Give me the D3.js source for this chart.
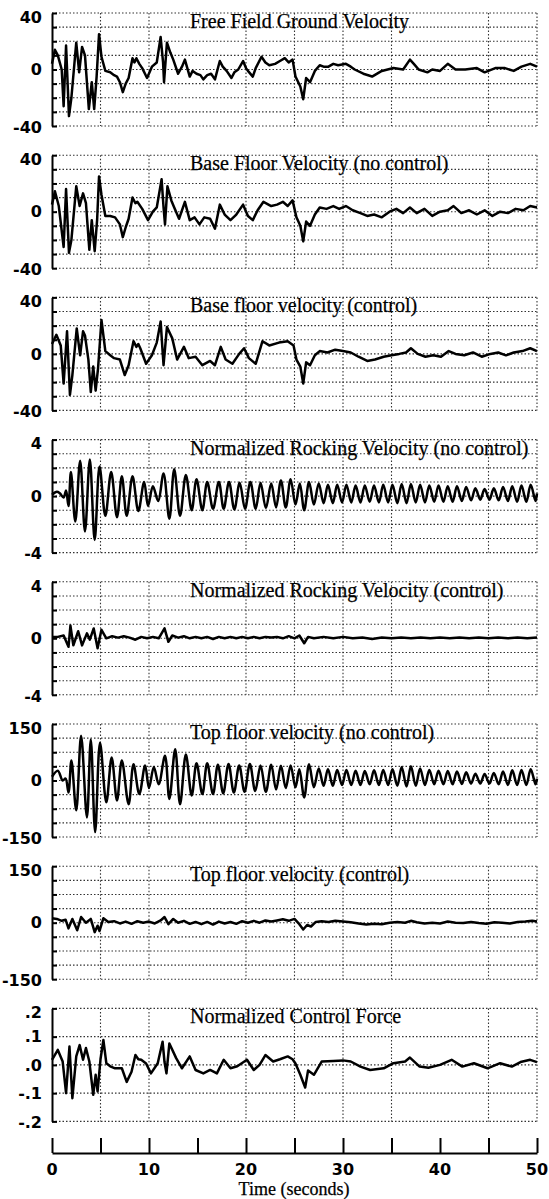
<!DOCTYPE html>
<html>
<head>
<meta charset="utf-8">
<style>
  body { margin: 0; background: #fff; }
  .grid line { stroke: #333; stroke-width: 1.1; stroke-dasharray: 1.5,2; }
  .yaxis path, .yaxis line, .xaxis path, .xaxis line { stroke: #000; stroke-width: 2; }
  .ylab, .xlab { font-family: "DejaVu Sans", sans-serif; font-size: 16px; font-weight: bold; fill: #000; }
  .title { font-family: "Liberation Serif", "Times New Roman", serif; font-size: 20px; fill: #000; stroke: #000; stroke-width: 0.25; }
  .xtitle { font-family: "Liberation Serif", "Times New Roman", serif; font-size: 18px; fill: #000; stroke: #000; stroke-width: 0.25; }
  .trace { fill: none; stroke: #000; stroke-width: 2.5; stroke-linejoin: round; }
</style>
</head>
<body>
<div id="chart"></div>
<script src="https://cdn.jsdelivr.net/npm/d3@7"></script>
<script>

var titles = [
  'Free Field Ground Velocity',
  'Base Floor Velocity (no control)',
  'Base floor velocity (control)',
  'Normalized Rocking Velocity (no control)',
  'Normalized Rocking Velocity (control)',
  'Top floor velocity (no control)',
  'Top floor velocity (control)',
  'Normalized Control Force'
];

var yMax = [40, 40, 40, 4, 4, 150, 150, 0.2];
var yGridStep = [10, 10, 10, 1, 1, 37.5, 37.5, 0.1];
var yTickVals = [
  [40, 0, -40], [40, 0, -40], [40, 0, -40], [4, 0, -4], [4, 0, -4],
  [150, 0, -150], [150, 0, -150], [0.2, 0.1, 0, -0.1, -0.2]
];
var yTickText = [
  ['40', '0', '-40'], ['40', '0', '-40'], ['40', '0', '-40'], ['4', '0', '-4'], ['4', '0', '-4'],
  ['150', '0', '-150'], ['150', '0', '-150'], ['.2', '.1', '.0', '-.1', '-.2']
];
var xGrid = [5, 10, 20, 25, 30, 35, 45, 50];
var xTicks = [0, 5, 10, 15, 20, 25, 30, 35, 40, 45, 50];
var xLabels = [0, 10, 20, 30, 40, 50];

// [time (s), value]
var groundVel = [[0,4],[0.3,14],[0.6,10],[1.0,0],[1.2,-26],[1.45,17],[1.75,-33],[2.0,-20],[2.5,19],[2.8,-2],[3.1,16],[3.4,10],[3.8,-28],[4.1,-9],[4.35,-28],[4.6,-5],[4.85,25],[5.1,9],[5.5,-1],[6.0,-2],[6.4,-4],[6.7,-5],[7.0,-9],[7.3,-16],[7.6,-10],[7.9,-6],[8.3,8],[8.5,5],[8.7,8],[9.0,4],[9.3,1],[9.8,-6],[10.3,2],[10.8,5],[11.2,23],[11.45,5],[11.55,-9],[11.85,19],[12.2,12],[12.5,7],[13.0,-3],[13.4,2],[13.7,7],[14.2,-5],[14.5,-1],[14.9,-3],[15.3,-4],[15.6,-7],[16.0,-4],[16.4,-3],[16.8,-7],[17.3,6],[17.6,2],[18.0,-1],[18.5,-6],[18.8,-2],[19.2,0],[19.7,6],[20.0,1],[20.2,-1],[20.7,-5],[21.0,1],[21.6,9],[22.0,5],[22.4,3],[23.0,4],[23.5,6],[24.0,8],[24.4,5],[24.8,7],[25.1,-5],[25.6,-12],[25.9,-21],[26.2,-6],[26.6,-9],[27.1,-1],[27.6,3],[28.0,2],[28.5,2],[29.0,4],[29.5,3],[30.3,4],[30.8,2],[31.2,0],[32.1,-3],[33.0,-5],[34.0,-1],[35.2,1],[36.2,0],[36.9,7],[37.3,4],[37.8,0],[38.7,-2],[39.2,0],[40.0,-1],[40.8,4],[41.6,0],[42.6,0],[43.8,1],[44.6,-2],[45.7,1],[46.7,1],[47.6,-1],[48.4,2],[49.3,4],[50,2]];

var baseNoCtrl = [[0,5],[0.3,14.5],[0.7,4],[1.2,-25],[1.45,16],[1.75,-29],[2.0,-20],[2.5,18],[2.85,4],[3.2,13],[3.5,6],[3.85,-27],[4.1,-6],[4.4,-28],[4.65,-6],[4.85,25],[5.1,12],[5.5,-3],[6.0,-3],[6.5,-4],[7.0,-9],[7.3,-18],[7.6,-11],[7.9,-5],[8.3,10],[8.6,6],[8.8,7],[9.3,2],[9.9,-6],[10.4,0],[10.8,3],[11.3,23],[11.5,3],[11.65,-9],[11.9,18],[12.3,8],[12.6,3],[13.1,-5],[13.7,7],[14.2,-6],[14.7,-4],[15.2,-9],[15.7,-4],[16.3,-5],[16.8,-12],[17.3,5],[17.8,-2],[18.4,-6],[19.0,-2],[19.7,5],[20.2,-3],[20.7,-6],[21.2,1],[21.8,7],[22.6,4],[23.2,5],[23.8,7],[24.3,4],[24.8,8],[25.2,-4],[25.6,-10],[25.9,-21],[26.2,-7],[26.6,-10],[27.1,-2],[27.6,3],[28.3,2],[29.0,4],[29.6,2],[30.3,4],[31.0,1],[31.8,-1],[32.5,-3],[33.2,-2],[34.0,-4],[34.8,0],[35.5,2],[36.2,-1],[36.9,3],[37.6,-1],[38.4,2],[39.2,-3],[40.0,0],[40.8,1],[41.4,4],[42.2,-1],[43.0,1],[43.8,-2],[44.6,1],[45.4,-3],[46.2,0],[47.0,-1],[47.8,2],[48.6,1],[49.3,4],[50,3]];

var baseCtrl = [[0,7],[0.45,13.5],[0.9,6],[1.2,-21],[1.55,16],[1.85,-29],[2.1,-15],[2.55,18],[2.9,-1],[3.2,16],[3.4,13],[3.75,-4],[4.0,-27],[4.25,-9],[4.5,-26],[4.75,-10],[5.1,24],[5.5,2],[6.0,-1],[6.4,-3],[7.0,-4],[7.5,-15],[7.9,-8],[8.4,9],[8.7,5],[8.9,7],[9.1,4],[9.7,-7],[10.3,-1],[10.8,8],[11.2,23],[11.4,2],[11.5,-8],[11.85,19],[12.4,11],[12.9,-4],[13.6,5],[14.1,-3],[14.8,-2],[15.5,-8],[16.3,-5],[16.8,-8],[17.4,5],[17.9,-4],[18.6,-7],[19.3,0],[19.8,4],[20.3,-3],[21.0,-7],[21.7,9],[22.4,6],[23.4,8],[24.3,9],[24.9,6],[25.2,-4],[25.6,-9],[25.9,-21],[26.2,-6],[26.6,-8],[27.1,-1],[27.6,2],[28.4,1],[29.2,3],[30.0,2],[30.8,1],[31.6,-2],[32.5,-5],[33.3,-4],[34.2,-2],[35.0,-1],[35.8,0],[36.5,1],[37.0,4],[37.7,0],[38.5,-2],[39.3,-1],[40.1,-2],[40.9,2],[41.6,0],[42.5,-1],[43.4,1],[44.3,-2],[45.2,0],[46.0,1],[46.8,-1],[47.6,1],[48.5,2],[49.3,4],[50,2]];

var rockNoCtrl = [[0,0.1],[0.5,0.3],[0.8,0.2],[1.2,-0.1],[1.45,0.4],[1.7,-0.7],[1.95,1.7],[2.4,-1.8],[2.9,2.5],[3.4,-2.5],[3.9,2.6],[4.4,-3.1],[4.9,2.1],[5.5,-1.4],[6.1,1.7],[6.7,-1.5],[7.2,1.4],[7.7,-1.4],[8.3,1.4],[8.9,-1.05],[9.5,1.0],[9.9,-0.7],[10.4,0.7],[10.95,-0.35],[11.5,1.6],[12.1,-1.6],[12.6,1.9],[13.2,-1.4],[13.8,1.5],[14.4,-1.0],[14.9,1.2],[15.5,-1.0],[16.0,1.0],[16.6,-0.9],[17.2,1.0],[17.7,-0.9],[18.25,1.0],[18.8,-0.95],[19.35,0.95],[19.9,-0.9],[20.45,1.0],[21.0,-0.9],[21.5,0.95],[22.05,-0.85],[22.6,0.9],[23.1,-0.8],[23.6,1.1],[24.1,-0.8],[24.6,1.2],[25.1,-0.6],[25.55,0.9],[26.0,-1.0],[26.5,1.0],[27.0,-0.6],[27.5,0.9],[28.0,-0.5],[28.45,0.8],[28.95,-0.5],[29.4,0.8],[29.9,-0.45],[30.35,0.8],[30.85,-0.45],[31.3,0.75],[31.8,-0.45],[32.25,0.75],[32.75,-0.4],[33.2,0.75],[33.7,-0.45],[34.15,0.8],[34.65,-0.45],[35.1,0.8],[35.6,-0.5],[36.05,0.85],[36.55,-0.5],[37.0,0.85],[37.5,-0.45],[37.95,0.8],[38.45,-0.45],[38.9,0.75],[39.4,-0.4],[39.85,0.75],[40.35,-0.4],[40.8,0.7],[41.3,-0.4],[41.75,0.7],[42.25,-0.35],[42.7,0.65],[43.2,-0.3],[43.65,0.55],[44.15,-0.25],[44.6,0.5],[45.1,-0.25],[45.55,0.55],[46.05,-0.3],[46.5,0.65],[47.0,-0.35],[47.45,0.7],[47.95,-0.4],[48.4,0.75],[48.9,-0.4],[49.35,0.8],[49.85,-0.35],[50,0.2]];

var rockCtrl = [[0,0.1],[0.6,0.1],[1.2,0.2],[1.7,-0.6],[1.9,0.9],[2.2,-0.5],[2.7,0.5],[3.1,-0.5],[3.6,0.35],[3.9,-0.1],[4.3,0.7],[4.7,-0.7],[5.1,0.6],[5.6,0.0],[6.2,0.15],[6.8,0.05],[7.4,0.15],[8.0,0.05],[8.6,-0.1],[9.2,0.1],[9.8,0.0],[10.4,0.1],[11.0,0.0],[11.6,0.7],[12.0,-0.25],[12.4,0.2],[13.0,0.05],[13.6,0.15],[14.2,0.0],[14.8,0.1],[15.4,0.0],[16.0,0.1],[16.6,-0.05],[17.2,0.1],[17.8,0.0],[18.4,0.1],[19.0,0.0],[19.6,0.1],[20.2,0.0],[20.8,0.1],[21.4,0.0],[22.0,0.1],[22.6,0.05],[23.2,0.1],[23.8,0.0],[24.4,0.15],[25.0,0.0],[25.5,0.2],[26.0,-0.35],[26.4,0.1],[27.0,0.0],[28,0.1],[29,0.0],[30,0.1],[31,0.0],[32,0.05],[33,-0.05],[34,0.05],[35,0.0],[36,0.05],[37,0.0],[38,0.05],[39,0.0],[40,0.05],[41,0.0],[42,0.05],[43,0.0],[44,0.05],[45,0.0],[46,0.05],[47,0.0],[48,0.05],[49,0.0],[50,0.05]];

var topNoCtrl = [[0,10],[0.6,26],[1.1,0],[1.4,5],[1.7,-32],[2.0,53],[2.5,-79],[3.0,119],[3.6,-98],[4.0,109],[4.45,-137],[4.95,100],[5.6,-58],[6.15,61],[6.7,-53],[7.2,53],[7.9,-63],[8.4,43],[9.0,-36],[9.6,40],[10.0,-20],[10.5,36],[11.0,-10],[11.65,66],[12.1,-49],[12.7,83],[13.2,-63],[13.8,69],[14.4,-40],[14.9,46],[15.5,-36],[16.0,46],[16.6,-36],[17.1,42],[17.65,-34],[18.2,44],[18.75,-32],[19.3,40],[19.85,-30],[20.4,44],[20.95,-28],[21.5,40],[22.05,-30],[22.6,42],[23.1,-24],[23.6,39],[24.1,-20],[24.6,40],[25.1,-18],[25.5,30],[26.0,-45],[26.5,43],[27.0,-18],[27.5,32],[28.0,-14],[28.45,30],[28.95,-14],[29.4,28],[29.9,-12],[30.35,28],[30.85,-12],[31.3,26],[31.8,-12],[32.25,25],[32.75,-10],[33.2,27],[33.7,-12],[34.15,28],[34.65,-12],[35.1,30],[35.6,-14],[36.05,36],[36.55,-16],[37.0,38],[37.5,-14],[37.95,32],[38.45,-12],[38.9,28],[39.4,-10],[39.85,26],[40.35,-10],[40.8,25],[41.3,-10],[41.75,24],[42.25,-9],[42.7,22],[43.2,-8],[43.65,18],[44.15,-8],[44.6,17],[45.1,-8],[45.55,20],[46.05,-10],[46.5,24],[47.0,-12],[47.45,27],[47.95,-12],[48.4,28],[48.9,-12],[49.35,30],[49.85,-10],[50,5]];

var topCtrl = [[0,12],[0.5,10],[1.0,5],[1.4,8],[1.7,-15],[2.1,10],[2.6,-20],[3.0,15],[3.5,0],[4.0,10],[4.4,-25],[4.7,-8],[4.9,-22],[5.3,12],[5.8,2],[6.4,4],[7.0,-2],[7.6,3],[8.2,-3],[8.8,4],[9.4,0],[10.0,3],[10.6,-2],[11.2,6],[11.6,15],[12.0,-4],[12.5,10],[13.0,0],[13.6,5],[14.2,-3],[14.8,2],[15.4,-4],[16.0,2],[16.6,-5],[17.2,3],[17.8,-2],[18.4,2],[19.0,-3],[19.6,4],[20.2,0],[20.8,5],[21.4,0],[22.0,6],[22.6,3],[23.2,6],[23.8,9],[24.4,5],[25.0,10],[25.5,-4],[25.9,-18],[26.3,-6],[26.7,-10],[27.2,2],[27.8,4],[28.5,2],[29.2,5],[30.0,3],[30.8,1],[31.6,-2],[32.4,-5],[33.2,-3],[34.0,-4],[34.8,0],[35.6,2],[36.4,0],[37.0,5],[37.6,1],[38.4,-2],[39.2,0],[40.0,-2],[40.8,3],[41.6,0],[42.4,-1],[43.2,2],[44.0,-1],[44.8,-3],[45.6,1],[46.4,0],[47.2,-2],[48.0,2],[48.8,3],[49.5,5],[50,3]];

var ctrlForce = [[0,0.018],[0.6,0.053],[1.1,0.012],[1.45,-0.1],[1.8,0.065],[2.1,-0.118],[2.5,0.03],[2.85,0.07],[3.2,0.018],[3.5,0.06],[3.85,0.012],[4.25,-0.106],[4.5,-0.035],[4.7,-0.094],[5.0,0.02],[5.3,0.088],[5.6,0.006],[6.0,-0.005],[6.5,-0.012],[7.2,-0.012],[7.7,-0.06],[8.2,-0.024],[8.6,0.035],[8.9,0.02],[9.2,0.018],[9.7,0.005],[10.2,-0.03],[10.9,0.006],[11.4,0.082],[11.6,0.01],[11.8,-0.03],[12.1,0.076],[12.8,0.024],[13.4,-0.012],[14.2,0.03],[14.8,-0.018],[15.6,-0.03],[16.3,-0.018],[17.0,-0.03],[17.7,0.018],[18.4,-0.012],[19.1,-0.005],[20.1,0.018],[20.8,-0.018],[21.4,0.0],[22.0,0.035],[22.8,0.012],[23.5,0.02],[24.3,0.03],[24.8,0.02],[25.1,0.005],[25.6,-0.035],[26.1,-0.08],[26.4,-0.02],[27.0,-0.035],[27.8,0.012],[29.0,0.014],[30.0,0.016],[30.8,0.012],[31.8,-0.006],[32.8,-0.018],[34.2,-0.012],[35.2,0.006],[36.4,0.012],[36.9,0.026],[37.9,-0.006],[38.8,-0.01],[40.0,0.0],[41.2,0.018],[42.3,-0.006],[43.5,0.006],[44.9,-0.012],[46.2,0.006],[47.4,-0.006],[48.3,0.01],[49.3,0.018],[50,0.01]];

var series = [groundVel, baseNoCtrl, baseCtrl, rockNoCtrl, rockCtrl, topNoCtrl, topCtrl, ctrlForce];
var smooth = [false, false, false, true, false, true, false, false];

var width = 549, height = 1199;
var left = 52, right = 537;
var top0 = 13, step = 142.2, ph = 113;
var axisY = 1153;

var x = d3.scaleLinear().domain([0, 50]).range([left, right]);

var svg = d3.select('#chart').append('svg')
    .attr('width', width)
    .attr('height', height);

series.forEach(function(data, i) {
  var t = top0 + i * step;
  var y = d3.scaleLinear().domain([-yMax[i], yMax[i]]).range([t + ph, t]);
  var g = svg.append('g');

  var hVals = d3.range(-yMax[i], yMax[i] + yGridStep[i] / 2, yGridStep[i]);

  var grid = g.append('g').attr('class', 'grid');
  grid.selectAll('.h').data(hVals).enter().append('line')
      .attr('x1', left).attr('x2', right)
      .attr('y1', function(d) { return y(d); })
      .attr('y2', function(d) { return y(d); });
  grid.selectAll('.v').data(xGrid).enter().append('line')
      .attr('x1', function(d) { return x(d); })
      .attr('x2', function(d) { return x(d); })
      .attr('y1', t).attr('y2', t + ph);

  // solid left axis with inward ticks
  g.append('g').attr('class', 'yaxis')
      .attr('transform', 'translate(' + left + ',0)')
      .call(d3.axisRight(y).tickValues(hVals).tickSize(5).tickSizeOuter(0).tickFormat(''));

  g.selectAll('.ylab').data(yTickVals[i]).enter().append('text')
      .attr('class', 'ylab')
      .attr('x', 42)
      .attr('y', function(d, k) {
        var py = y(d);
        if (k === 0) py += 4;
        if (k === yTickVals[i].length - 1) py += 1;
        return py;
      })
      .attr('dy', '0.36em')
      .attr('text-anchor', 'end')
      .text(function(d, k) { return yTickText[i][k]; });

  g.append('text').attr('class', 'title')
      .attr('x', 190)
      .attr('y', t + 15)
      .text(titles[i]);

  var line = d3.line()
      .x(function(d) { return x(d[0]); })
      .y(function(d) { return y(d[1]); })
      .curve(smooth[i] ? d3.curveCatmullRom : d3.curveLinear);

  g.append('path').datum(data)
      .attr('class', 'trace')
      .attr('d', line);
});

// time axis
svg.append('g').attr('class', 'xaxis')
    .attr('transform', 'translate(0,' + axisY + ')')
    .call(d3.axisTop(x).tickValues(xTicks).tickSize(15).tickSizeOuter(0).tickFormat(''));

svg.selectAll('.xlab').data(xLabels).enter().append('text')
    .attr('class', 'xlab')
    .attr('x', function(d) { return x(d); })
    .attr('y', 1175)
    .attr('text-anchor', 'middle')
    .text(function(d) { return d; });

svg.append('text').attr('class', 'xtitle')
    .attr('x', 294)
    .attr('y', 1195)
    .attr('text-anchor', 'middle')
    .text('Time (seconds)');

</script>
</body>
</html>
